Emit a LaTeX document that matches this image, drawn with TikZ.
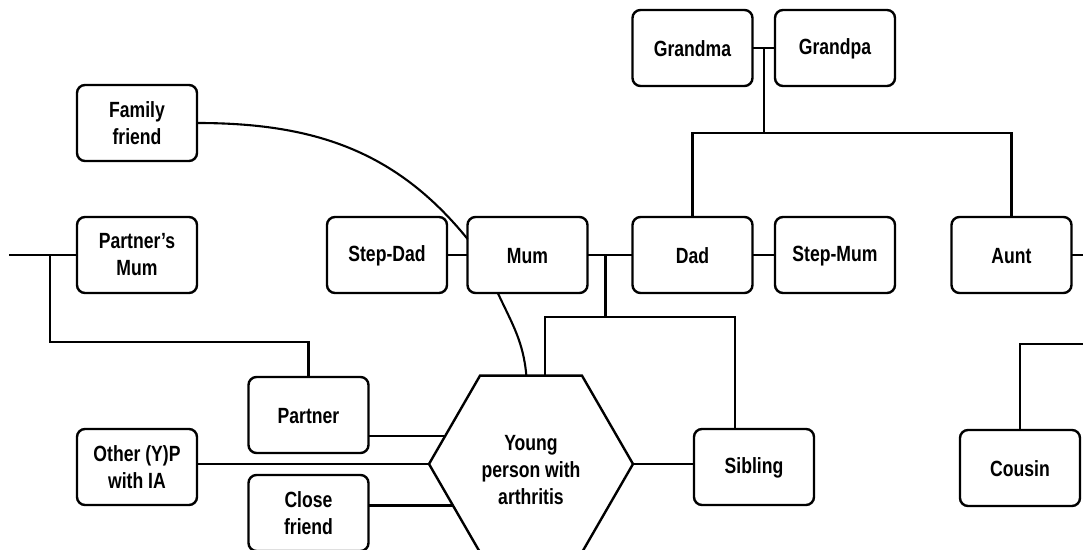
\documentclass[tikz,border=0pt]{standalone}
\usepackage{fontspec}
\setmainfont{Liberation Sans}[FakeStretch=0.8]
\usetikzlibrary{shapes.geometric,calc}

\tikzset{
  person/.style={draw, line width=1.2pt, rounded corners=4pt, outer sep=0pt,
    minimum width=60pt, minimum height=38pt, align=center,
    execute at begin node=\vphantom{\rule{0pt}{9pt}},
    font=\bfseries\fontsize{11pt}{13.5pt}\selectfont},
  centre/.style={draw, line width=1.2pt, regular polygon, regular polygon sides=6,
    minimum size=102pt, inner sep=0pt, outer sep=0pt, align=center,
    font=\bfseries\fontsize{11pt}{13.5pt}\selectfont},
  link/.style={line width=1.05pt}
}

\begin{document}
\begin{tikzpicture}[x=0.5pt, y=0.5pt]
        \useasboundingbox (0,0) rectangle (1083,-550);

        % Abuelos
        \node[person] (Grandma) at (692.5,-48) {Grandma};
        \node[person] (Grandpa) at (835,-48) {Grandpa};

        % Fila de los padres
        \node[person] (FamilyFriend) at (137,-123) {Family\\friend};
        \node[person] (PartnersMum) at (137,-255) {Partner's\\Mum};
        \node[person] (StepDad) at (387,-255) {Step-Dad};
        \node[person] (Mum) at (527.5,-255) {Mum};
        \node[person] (Dad) at (692.5,-255) {Dad};
        \node[person] (StepMum) at (835,-255) {Step-Mum};
        \node[person] (Aunt) at (1011.5,-255) {Aunt};

        % Fila de abajo
        \node[centre] (YP) at (531,-464) {\rule{0pt}{14pt}Young\\person with\\arthritis};
        \node[person] (Partner) at (308.5,-415) {Partner};
        \node[person] (Other) at (137,-467) {Other (Y)P\\with IA};
        \node[person] (CloseFriend) at (308.5,-513) {Close\\friend};
        \node[person] (Sibling) at (754,-467) {Sibling};
        \node[person] (Cousin) at (1020,-468) {Cousin};

        % Puntos de union
        \coordinate (gp) at ($(Grandma.east)!0.5!(Grandpa.west)$);
        \coordinate (kids) at (764,-133);
        \coordinate (par) at ($(Mum.east)!0.4!(Dad.west)$);
        \coordinate (sibL) at (545,-317);
        \coordinate (sibR) at (735,-317);
        \coordinate (pbar) at (50,-342);
        \coordinate (ledge) at (9,0);
        \coordinate (redge) at (1083,0);
        \coordinate (cbar) at (1083,-344);

        % Lineas de la familia
        \draw[link] (Grandma) -- (Grandpa);
        \draw[link] (gp) -- (gp |- kids);
        \draw[link] (Dad.north) |- (kids) -| (Aunt.north);
        \draw[link] (StepDad) -- (Mum);
        \draw[link] (Mum) -- (Dad);
        \draw[link] (Dad) -- (StepMum);
        \draw[link] (par) -- (par |- sibL);
        \draw[link] (sibL |- YP.north) |- (sibR) -- (sibR |- Sibling.north);
        \draw[link] (Aunt) -- (Aunt -| redge);
        \draw[link] (Cousin.north) |- (cbar);
        \draw[link] (ledge |- PartnersMum) -- (PartnersMum);
        \draw[link] (pbar |- PartnersMum) -- (pbar) -| (Partner.north);

        % Curvas
        \draw[link] (FamilyFriend.east) to[out=0, in=129] (Mum.165);
        \draw[link] (Mum.232) to[out=-65, in=95] (YP.93);

        % Lineas al centro
        \draw[link] (Partner.east |- YP.162) -- (YP.162);
        \draw[link] (Other.east |- YP.west) -- (YP.west);
        \draw[link] (CloseFriend.east |- YP.208) -- (YP.208);
        \draw[link] (YP.east) -- (YP.east -| Sibling.west);

    \end{tikzpicture}
\end{document}
